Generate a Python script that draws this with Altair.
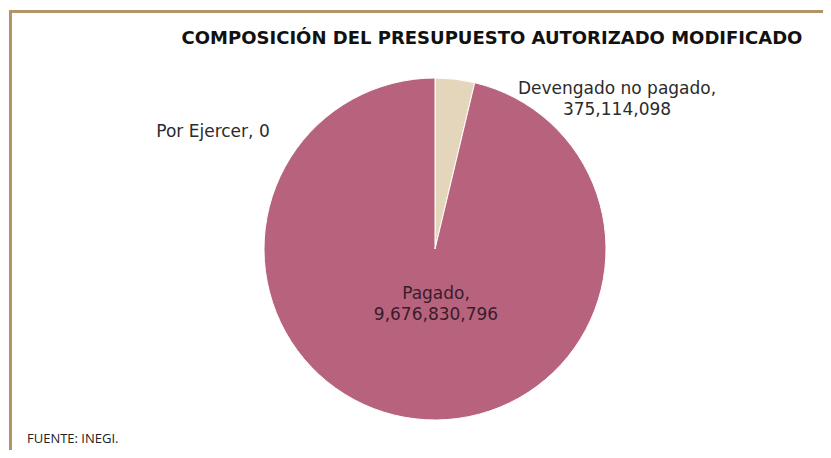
import altair as alt
import pandas as pd

categories = ["Por Ejercer", "Devengado no pagado", "Pagado"]
values = [0, 375114098, 9676830796]
slice_colors = ["#8C6D8E", "#E3D6BA", "#B8637D"]
title_text = "COMPOSICIÓN DEL PRESUPUESTO AUTORIZADO MODIFICADO"
source_text = "FUENTE: INEGI."

W, H = 815, 442
FONT = "DejaVu Sans"

df = pd.DataFrame({"cat": categories, "val": values, "order": list(range(len(categories)))})


def fmt(v):
    return f"{v:,}"


pie = alt.Chart(df).mark_arc(radius=171, stroke="white", strokeWidth=1).encode(
    theta=alt.Theta("val:Q", stack=True),
    color=alt.Color("cat:N", scale=alt.Scale(domain=categories, range=slice_colors), legend=None),
    order=alt.Order("order:Q"),
    x=alt.value(425),
    y=alt.value(239),
)


def text_layer(txt, x, y, size=17, color="#2b2b2b", weight="normal", align="center", font=FONT):
    return alt.Chart(pd.DataFrame({"t": [txt]})).mark_text(
        font=font, fontSize=size, color=color, fontWeight=weight, align=align,
        baseline="middle", lineBreak="\n", lineHeight=21,
    ).encode(text="t:N", x=alt.value(x), y=alt.value(y))


lab_dev = text_layer(f"{categories[1]},\n{fmt(values[1])}", 607, 79)
lab_por = text_layer(f"{categories[0]}, {fmt(values[0])}", 203, 122)
lab_pag = text_layer(f"{categories[2]},\n{fmt(values[2])}", 426, 284, color="#3a1c2a")
title = text_layer(title_text, 482, 29, size=18, color="#111111", weight="bold")
source = text_layer(source_text, 17, 429, size=13, color="#222222", align="left", font="Open Sans")

border_color = "#B39468"
top_rule = alt.Chart(pd.DataFrame({"a": [0]})).mark_rule(color=border_color, strokeWidth=3).encode(
    x=alt.value(0), x2=alt.value(W), y=alt.value(1.5)
)
left_rule = alt.Chart(pd.DataFrame({"a": [0]})).mark_rule(color=border_color, strokeWidth=3).encode(
    x=alt.value(0.5), y=alt.value(0), y2=alt.value(H)
)

chart = alt.layer(
    pie, lab_dev, lab_por, lab_pag, title, source, top_rule, left_rule
).properties(
    width=W, height=H, padding=0, background="white",
    autosize=alt.AutoSizeParams(type="fit", contains="padding"),
).configure_view(stroke=None)

chart.save("out.html", embed_options={"renderer": "svg", "actions": False})
